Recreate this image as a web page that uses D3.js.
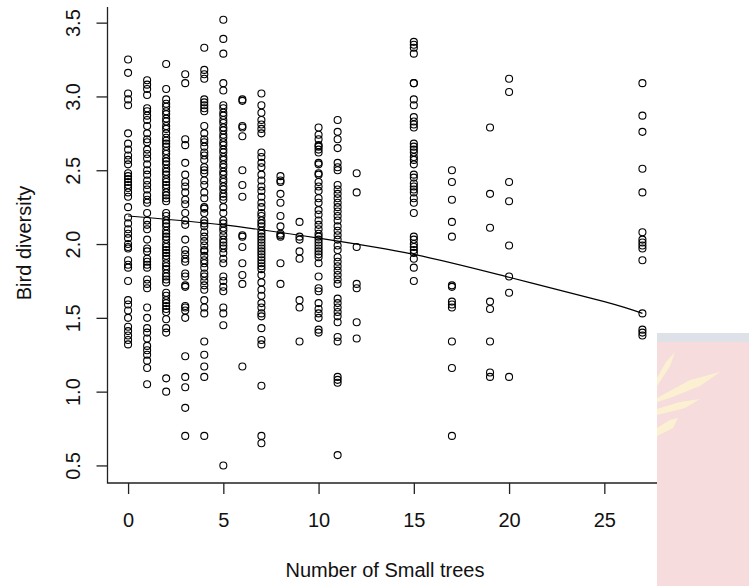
<!DOCTYPE html>
<html>
<head>
<meta charset="utf-8">
<script src="https://cdn.jsdelivr.net/npm/d3@7"></script>
<style>
  body { margin: 0; background: #fff; }
  text { font-family: "Liberation Sans", Arial, sans-serif; }
</style>
</head>
<body>
<div id="chart"></div>
<script>
// number of small trees (one column of points per value)
var trees = [0, 1, 2, 3, 4, 5, 6, 7, 8, 9, 10, 11, 12, 15, 17, 19, 20, 27];

// bird diversity readings, one array per tree count above
var diversity = [
  [3.25, 3.16, 3.02, 2.98, 2.94, 2.75, 2.68, 2.64, 2.60, 2.57, 2.54, 2.48, 2.46, 2.44, 2.42, 2.40, 2.38, 2.35, 2.32, 2.25, 2.18, 2.14, 2.10, 2.07, 2.04, 2.00, 1.97, 1.98, 1.89, 1.86, 1.84, 1.75, 1.62, 1.59, 1.55, 1.50, 1.44, 1.41, 1.38, 1.35, 1.32],
  [3.11, 3.08, 3.05, 3.01, 2.92, 2.90, 2.87, 2.84, 2.80, 2.75, 2.71, 2.69, 2.64, 2.61, 2.58, 2.54, 2.50, 2.47, 2.43, 2.40, 2.37, 2.33, 2.30, 2.28, 2.21, 2.16, 2.13, 2.10, 2.03, 1.97, 1.95, 1.90, 1.88, 1.86, 1.84, 1.76, 1.73, 1.70, 1.57, 1.50, 1.43, 1.40, 1.36, 1.31, 1.28, 1.25, 1.21, 1.16, 1.05],
  [3.22, 3.05, 2.98, 2.95, 2.93, 2.90, 2.88, 2.85, 2.83, 2.80, 2.78, 2.75, 2.72, 2.70, 2.68, 2.66, 2.63, 2.61, 2.58, 2.56, 2.54, 2.51, 2.49, 2.47, 2.44, 2.42, 2.40, 2.38, 2.35, 2.33, 2.31, 2.29, 2.21, 2.19, 2.16, 2.14, 2.12, 2.09, 2.07, 2.05, 2.03, 2.00, 1.98, 1.96, 1.94, 1.92, 1.90, 1.87, 1.85, 1.83, 1.80, 1.78, 1.76, 1.74, 1.67, 1.65, 1.62, 1.60, 1.58, 1.56, 1.54, 1.49, 1.43, 1.40, 1.09, 1.00],
  [3.15, 3.09, 2.71, 2.67, 2.55, 2.47, 2.42, 2.39, 2.35, 2.30, 2.27, 2.21, 2.16, 2.13, 2.03, 1.96, 1.93, 1.90, 1.88, 1.80, 1.78, 1.72, 1.71, 1.58, 1.57, 1.55, 1.50, 1.24, 1.10, 1.03, 0.89, 0.70],
  [3.33, 3.18, 3.15, 3.12, 2.98, 2.96, 2.94, 2.92, 2.90, 2.80, 2.75, 2.71, 2.69, 2.66, 2.62, 2.60, 2.57, 2.52, 2.50, 2.48, 2.43, 2.40, 2.35, 2.31, 2.25, 2.24, 2.21, 2.16, 2.14, 2.12, 2.08, 2.05, 2.02, 1.99, 1.96, 1.95, 1.92, 1.89, 1.87, 1.84, 1.80, 1.78, 1.75, 1.72, 1.69, 1.62, 1.57, 1.53, 1.34, 1.25, 1.17, 1.10, 0.70],
  [3.52, 3.39, 3.29, 3.09, 3.04, 2.94, 2.92, 2.89, 2.87, 2.84, 2.82, 2.79, 2.77, 2.74, 2.72, 2.69, 2.67, 2.64, 2.62, 2.59, 2.57, 2.54, 2.52, 2.49, 2.47, 2.44, 2.42, 2.39, 2.37, 2.34, 2.32, 2.30, 2.25, 2.21, 2.16, 2.14, 2.11, 2.09, 2.06, 2.03, 2.01, 1.99, 1.97, 1.94, 1.90, 1.87, 1.78, 1.75, 1.71, 1.68, 1.57, 1.53, 1.45, 0.50],
  [2.98, 2.97, 2.80, 2.79, 2.73, 2.50, 2.40, 2.32, 2.06, 2.05, 1.98, 1.87, 1.79, 1.73, 1.17],
  [3.02, 2.94, 2.89, 2.84, 2.81, 2.78, 2.75, 2.62, 2.59, 2.55, 2.52, 2.47, 2.43, 2.39, 2.36, 2.32, 2.28, 2.25, 2.21, 2.19, 2.16, 2.14, 2.12, 2.09, 2.07, 2.05, 2.03, 2.01, 1.99, 1.97, 1.95, 1.93, 1.91, 1.89, 1.87, 1.85, 1.83, 1.79, 1.74, 1.69, 1.65, 1.60, 1.57, 1.53, 1.51, 1.43, 1.35, 1.32, 1.04, 0.70, 0.65],
  [2.46, 2.43, 2.42, 2.34, 2.28, 2.19, 2.12, 2.07, 2.06, 2.05, 1.87, 1.73],
  [2.15, 2.05, 2.03, 1.95, 1.90, 1.62, 1.57, 1.34],
  [2.79, 2.74, 2.71, 2.67, 2.66, 2.64, 2.62, 2.55, 2.54, 2.48, 2.47, 2.42, 2.39, 2.36, 2.31, 2.28, 2.23, 2.20, 2.16, 2.13, 2.10, 2.07, 2.05, 2.03, 2.01, 1.99, 1.97, 1.95, 1.93, 1.91, 1.87, 1.78, 1.70, 1.68, 1.60, 1.56, 1.53, 1.50, 1.42, 1.40],
  [2.84, 2.76, 2.71, 2.65, 2.55, 2.52, 2.50, 2.40, 2.37, 2.34, 2.31, 2.28, 2.25, 2.22, 2.19, 2.16, 2.12, 2.09, 2.06, 2.03, 1.99, 1.96, 1.91, 1.88, 1.85, 1.82, 1.79, 1.76, 1.73, 1.63, 1.60, 1.57, 1.54, 1.51, 1.47, 1.37, 1.34, 1.10, 1.08, 1.06, 0.57],
  [2.48, 2.35, 1.98, 1.73, 1.70, 1.47, 1.36],
  [3.37, 3.35, 3.33, 3.29, 3.09, 3.09, 2.98, 2.94, 2.86, 2.83, 2.81, 2.79, 2.68, 2.66, 2.64, 2.62, 2.59, 2.57, 2.54, 2.47, 2.45, 2.41, 2.39, 2.37, 2.35, 2.31, 2.28, 2.21, 2.05, 2.03, 2.00, 1.98, 1.96, 1.94, 1.90, 1.84, 1.75],
  [2.50, 2.42, 2.30, 2.15, 2.05, 1.72, 1.71, 1.61, 1.59, 1.57, 1.34, 1.16, 0.70],
  [2.79, 2.34, 2.11, 1.61, 1.56, 1.34, 1.13, 1.10],
  [3.12, 3.03, 2.42, 2.29, 1.99, 1.78, 1.67, 1.10],
  [3.09, 2.87, 2.76, 2.51, 2.35, 2.08, 2.03, 2.01, 1.99, 1.97, 1.89, 1.53, 1.42, 1.40, 1.38]
];

// fitted curve
var fitX = [0, 5, 10, 15, 20, 25, 27];
var fitY = [2.19, 2.13, 2.04, 1.93, 1.775, 1.61, 1.53];

var xTicks = [0, 5, 10, 15, 20, 25];
var yTicks = [0.5, 1.0, 1.5, 2.0, 2.5, 3.0, 3.5];

var W = 749, H = 586;
var plotL = 107.5, plotR = 663, plotT = 7, plotB = 483;
var fontSize = 20;

var svg = d3.select("#chart").append("svg")
  .attr("width", W).attr("height", H);

// slide background panel on the right
svg.append("rect").attr("x", 657).attr("y", 333).attr("width", 92).attr("height", 253).attr("fill", "#f6dcdd");
svg.append("rect").attr("x", 657).attr("y", 333).attr("width", 92).attr("height", 9).attr("fill", "#dfe1e8");
var wing = svg.append("g").attr("fill", "#fbf1d2");
wing.append("path").attr("d", "M657,378 L666,362 L675,352 L670,366 L657,386 Z");
wing.append("path").attr("d", "M657,398 L690,380 L720,372 L700,386 L670,398 L657,402 Z");
wing.append("path").attr("d", "M657,409 L680,402 L700,399 L685,408 L657,415 Z");
wing.append("path").attr("d", "M657,428 L670,420 L678,418 L673,428 L657,436 Z");

var x = d3.scaleLinear().domain([-1.08, 28.08]).range([plotL, plotR]);
var y = d3.scaleLinear().domain([0.381, 3.606]).range([plotB, plotT]);

var points = [];
trees.forEach(function(t, i) {
  diversity[i].forEach(function(v) { points.push({x: t, y: v}); });
});

svg.append("g").selectAll("circle")
  .data(points)
  .enter()
  .append("circle")
  .attr("cx", function(d) { return x(d.x); })
  .attr("cy", function(d) { return y(d.y); })
  .attr("r", 3.5)
  .attr("fill", "none")
  .attr("stroke", "#000")
  .attr("stroke-width", 1.1);

var fit = fitX.map(function(d, i) { return [d, fitY[i]]; });
svg.append("path")
  .datum(fit)
  .attr("d", d3.line().x(function(d) { return x(d[0]); }).y(function(d) { return y(d[1]); }).curve(d3.curveNatural))
  .attr("fill", "none")
  .attr("stroke", "#000")
  .attr("stroke-width", 1.2);

// L-shaped box, cut where the slide panel covers it
svg.append("path")
  .attr("d", "M" + plotL + "," + plotT + "V" + plotB + "H657")
  .attr("fill", "none")
  .attr("stroke", "#222")
  .attr("stroke-width", 1.3);

// x axis
var gx = svg.append("g")
  .attr("transform", "translate(0," + plotB + ")")
  .call(d3.axisBottom(x).tickValues(xTicks).tickSize(11).tickFormat(d3.format("d")));
gx.select(".domain").remove();
gx.selectAll("line").attr("stroke", "#222").attr("stroke-width", 1.3);
gx.selectAll("text")
  .attr("y", 44).attr("dy", 0)
  .attr("fill", "#111")
  .attr("font-size", fontSize)
  .attr("font-family", "Liberation Sans, Arial, sans-serif");

// y axis
var gy = svg.append("g")
  .attr("transform", "translate(" + plotL + ",0)")
  .call(d3.axisLeft(y).tickValues(yTicks).tickSize(11).tickFormat(d3.format(".1f")));
gy.select(".domain").remove();
gy.selectAll("line").attr("stroke", "#222").attr("stroke-width", 1.3);
gy.selectAll("text")
  .attr("transform", "rotate(-90)")
  .attr("x", 0).attr("y", -27.5).attr("dy", 0)
  .attr("text-anchor", "middle")
  .attr("fill", "#111")
  .attr("font-size", fontSize)
  .attr("font-family", "Liberation Sans, Arial, sans-serif");

// axis titles
svg.append("text")
  .attr("x", 385).attr("y", 577)
  .attr("text-anchor", "middle")
  .attr("font-size", fontSize)
  .attr("fill", "#111")
  .text("Number of Small trees");

svg.append("text")
  .attr("transform", "translate(31,243) rotate(-90)")
  .attr("text-anchor", "middle")
  .attr("font-size", fontSize)
  .attr("fill", "#111")
  .text("Bird diversity");
</script>
</body>
</html>
